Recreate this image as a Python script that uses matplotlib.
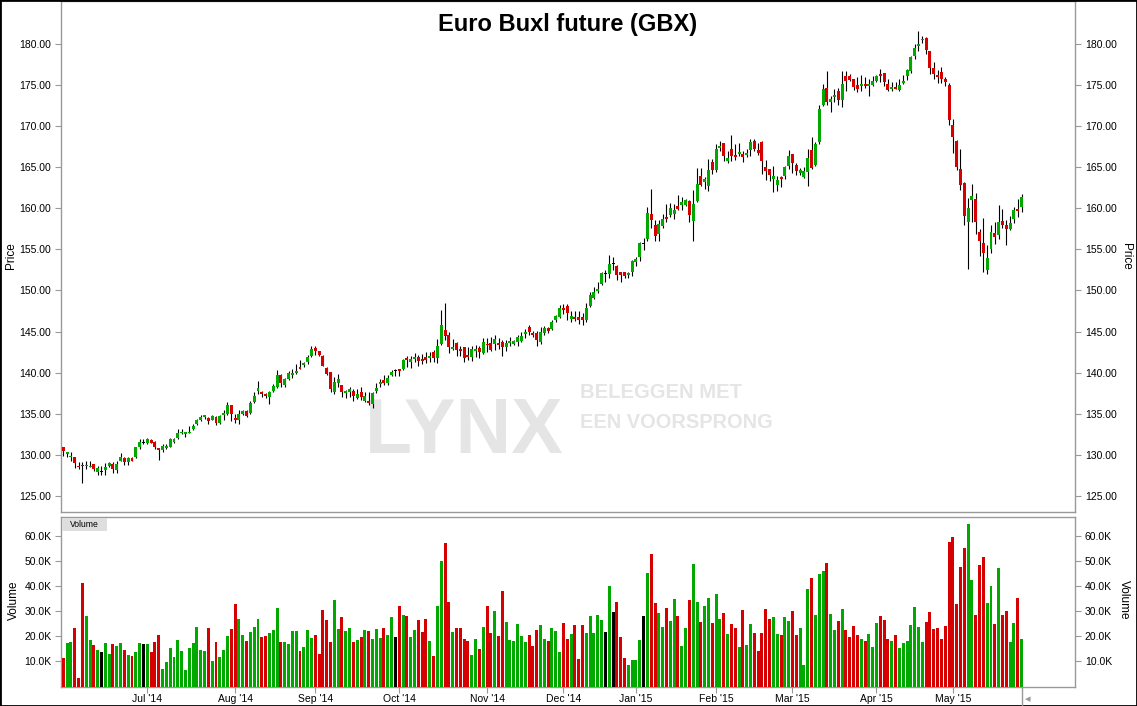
import matplotlib
matplotlib.use('Agg')
import matplotlib.pyplot as plt
from matplotlib import font_manager
from matplotlib.font_manager import FontProperties
from matplotlib.patches import Rectangle
from matplotlib.lines import Line2D
from matplotlib.ticker import FuncFormatter, FixedLocator
import numpy as np
import pandas as pd

plt.rcParams['font.family'] = ['Liberation Sans', 'DejaVu Sans']

# trading days (Eurex closed on these)
holidays = ['2014-12-24', '2014-12-25', '2014-12-26', '2014-12-31',
            '2015-01-01', '2015-04-03', '2015-04-06', '2015-05-01']
dates = pd.bdate_range('2014-05-30', '2015-05-28')
dates = dates[~dates.isin(pd.to_datetime(holidays))]

opens = [
    130.9, 130.1, 129.7, 129.7, 128.7, 128.8, 128.6, 128.5, 128.9, 127.9,
    127.9, 128.1, 128.7, 128.9, 128.1, 129.3, 129.6, 129.1, 129.6, 129.7,
    130.9, 131.5, 131.4, 131.8, 131.6, 130.8, 130.6, 130.8, 131.0, 131.6,
    132.0, 132.6, 132.5, 132.7, 133.2, 133.8, 134.3, 134.6, 134.5, 134.3,
    134.6, 133.9, 134.8, 135.0, 136.1, 134.5, 134.3, 135.0, 135.3, 135.1,
    136.4, 137.8, 137.7, 137.4, 137.0, 137.8, 138.3, 139.7, 138.5, 139.2,
    139.7, 139.9, 140.7, 140.9, 141.3, 142.0, 143.0, 142.6, 142.0, 140.6,
    140.1, 137.7, 138.8, 138.5, 137.5, 137.7, 137.8, 136.9, 137.6, 136.6,
    136.5, 136.2, 137.8, 138.6, 139.1, 138.7, 139.7, 140.2, 140.4, 140.4,
    141.8, 141.35, 141.7, 141.9, 141.7, 141.9, 141.8, 142.5, 141.8, 143.5,
    145.2, 144.6, 142.9, 143.6, 142.9, 143.1, 142.2, 141.9, 142.6, 143.0,
    142.4, 143.5, 143.6, 143.5, 143.6, 143.7, 143.1, 143.6, 143.5, 143.7,
    143.9, 144.7, 145.6, 144.8, 144.8, 143.7, 144.8, 145.4, 145.3, 146.4,
    146.8, 147.9, 148.1, 146.5, 146.8, 146.8, 146.8, 146.4, 148.1, 149.1,
    149.9, 150.8, 151.95, 152.0, 153.2, 153.0, 152.25, 152.25, 151.9, 152.25,
    153.5, 154.1, 155.7, 156.3, 159.3, 157.96, 156.9, 157.8, 158.9, 159.2,
    159.3, 160.3, 160.4, 160.4, 160.9, 158.5, 160.9, 163.9, 163.2, 162.7,
    165.6, 164.7, 167.3, 167.9, 165.8, 167.2, 166.5, 166.6, 166.6, 166.5,
    167.1, 168.2, 167.1, 168.1, 165.0, 164.8, 163.6, 162.8, 163.8, 163.9,
    165.15, 166.6, 165.3, 164.3, 163.8, 164.4, 167.1, 165.3, 168.0, 172.6,
    174.6, 172.9, 173.55, 174.2, 173.1, 176.1, 176.1, 175.75, 175.0, 174.9,
    175.1, 174.9, 175.0, 175.5, 176.35, 176.5, 175.1, 174.5, 174.8, 174.4,
    175.25, 176.1, 176.7, 178.5, 179.75, 180.4, 180.7, 179.15, 177.0, 176.2,
    176.6, 175.7, 175.0, 170.1, 168.2, 164.8, 163.1, 158.3, 161.0, 161.1,
    157.1, 155.8, 152.5, 155.05, 157.0, 156.75, 158.45, 157.97, 157.5, 158.7,
    159.9, 160.2,
]

highs = [
    131.0, 130.3, 130.3, 129.8, 129.1, 129.1, 129.3, 129.2, 128.9, 128.6,
    128.6, 129.0, 129.1, 129.1, 129.2, 130.2, 129.8, 129.8, 129.8, 131.0,
    131.9, 131.9, 132.1, 131.9, 131.7, 130.8, 131.3, 131.3, 132.1, 132.1,
    133.2, 133.1, 132.8, 133.5, 133.7, 134.4, 134.9, 134.9, 134.6, 134.8,
    134.7, 134.8, 135.4, 136.4, 136.1, 135.0, 135.4, 135.5, 135.4, 136.5,
    137.6, 139.0, 137.8, 137.5, 137.8, 138.6, 140.3, 139.8, 139.3, 140.2,
    140.4, 141.0, 141.5, 141.3, 142.2, 143.2, 143.3, 142.6, 142.1, 140.7,
    140.1, 139.5, 139.8, 138.5, 137.9, 138.3, 138.0, 138.0, 138.2, 137.7,
    137.6, 137.6, 138.7, 139.2, 139.7, 139.7, 140.3, 140.4, 140.4, 141.7,
    142.0, 142.0, 142.4, 142.2, 142.3, 142.5, 142.5, 142.8, 144.1, 147.6,
    148.5, 145.0, 144.1, 143.7, 143.3, 143.1, 143.1, 143.3, 143.4, 143.3,
    144.2, 144.2, 144.3, 144.6, 144.2, 144.0, 144.0, 144.3, 144.0, 144.6,
    145.0, 145.3, 145.8, 145.1, 145.1, 145.6, 145.7, 145.6, 146.4, 147.0,
    148.2, 148.4, 148.4, 147.5, 147.5, 147.5, 147.3, 148.5, 149.8, 150.4,
    151.0, 152.2, 152.5, 154.3, 154.1, 153.1, 152.25, 152.25, 152.25, 153.7,
    154.1, 155.9, 156.4, 160.2, 162.3, 158.6, 158.6, 159.3, 160.5, 160.6,
    160.5, 161.6, 161.4, 161.1, 161.0, 162.2, 164.9, 164.9, 163.8, 166.0,
    166.0, 167.8, 168.2, 167.9, 167.0, 168.9, 167.8, 167.9, 167.0, 167.2,
    168.4, 168.4, 167.95, 168.2, 165.9, 164.8, 165.15, 163.9, 163.9, 165.15,
    167.1, 166.6, 165.5, 164.9, 165.0, 167.2, 168.6, 168.1, 172.6, 175.1,
    176.7, 173.7, 174.5, 174.6, 176.7, 176.7, 176.3, 175.75, 175.9, 176.2,
    176.0, 175.7, 176.1, 176.2, 176.95, 176.5, 175.7, 175.4, 175.4, 175.7,
    176.2, 176.95, 178.5, 180.0, 181.6, 181.0, 180.85, 179.15, 177.8, 176.8,
    177.2, 175.9, 175.25, 170.9, 168.3, 167.2, 163.2, 161.2, 162.96, 161.9,
    157.5, 158.8, 155.5, 157.97, 158.3, 160.4, 159.9, 158.6, 159.1, 160.2,
    161.1, 161.75,
]

lows = [
    129.9, 129.7, 129.3, 128.4, 128.3, 126.6, 128.3, 128.5, 128.0, 127.5,
    127.5, 127.5, 128.5, 127.8, 127.8, 129.2, 128.8, 128.8, 129.2, 129.6,
    130.7, 131.3, 131.3, 131.4, 130.7, 129.4, 130.4, 130.7, 130.9, 131.5,
    131.9, 132.5, 132.2, 132.6, 133.0, 133.6, 134.1, 134.4, 133.8, 134.2,
    133.6, 133.7, 134.3, 134.8, 134.1, 133.9, 133.7, 134.8, 134.6, 135.0,
    136.3, 137.4, 137.0, 136.9, 136.2, 137.7, 138.1, 138.2, 138.3, 139.1,
    139.3, 139.8, 140.4, 140.7, 141.1, 141.9, 142.1, 142.0, 140.8, 139.7,
    137.6, 137.4, 138.2, 137.0, 136.9, 137.0, 136.5, 136.8, 136.7, 136.4,
    136.1, 135.7, 137.5, 138.2, 138.5, 138.5, 139.6, 139.6, 139.6, 140.3,
    140.7, 140.6, 141.3, 140.8, 141.1, 141.2, 141.3, 141.3, 141.2, 143.4,
    144.0, 142.4, 142.8, 142.0, 142.0, 141.3, 141.5, 141.4, 141.9, 141.8,
    142.3, 142.5, 142.6, 142.8, 142.9, 142.0, 142.6, 143.3, 143.4, 143.3,
    143.7, 144.2, 144.6, 144.35, 143.3, 143.5, 144.6, 144.8, 145.2, 146.2,
    146.7, 147.1, 146.4, 146.2, 146.3, 145.9, 145.8, 146.2, 148.0, 149.0,
    149.7, 150.7, 151.0, 151.5, 152.5, 151.3, 151.0, 151.5, 151.5, 151.8,
    153.0, 153.6, 154.9, 156.0, 157.6, 156.0, 156.0, 157.6, 158.3, 158.9,
    158.7, 159.8, 159.8, 160.3, 158.3, 156.0, 160.8, 162.7, 162.3, 162.1,
    164.1, 164.4, 166.9, 165.8, 165.5, 165.8, 165.9, 166.4, 165.6, 166.2,
    166.4, 167.0, 166.5, 164.2, 163.45, 163.3, 162.0, 162.1, 162.6, 163.6,
    164.8, 164.3, 164.05, 164.05, 163.7, 162.7, 164.8, 165.15, 167.8, 172.45,
    172.6, 171.7, 172.9, 172.6, 172.3, 174.2, 175.5, 174.4, 174.15, 174.3,
    174.6, 173.7, 174.9, 175.4, 175.4, 174.9, 174.3, 174.3, 174.5, 174.3,
    175.1, 175.6, 176.5, 178.2, 179.1, 180.1, 178.7, 176.35, 175.7, 175.25,
    175.25, 174.9, 170.1, 166.7, 164.7, 162.2, 158.0, 152.6, 158.3, 156.9,
    154.2, 152.25, 152.0, 154.6, 155.65, 156.3, 157.6, 155.5, 157.4, 158.2,
    158.9, 159.55,
]

closes = [
    130.5, 130.3, 129.9, 129.0, 128.5, 128.6, 128.8, 128.7, 128.3, 128.4,
    127.9, 128.5, 129.0, 128.3, 128.9, 129.8, 129.1, 129.6, 129.3, 130.9,
    131.6, 131.5, 131.9, 131.5, 131.0, 130.6, 131.1, 131.1, 131.9, 131.9,
    132.7, 132.8, 132.8, 132.8, 133.5, 134.2, 134.6, 134.8, 134.1, 134.7,
    133.9, 134.7, 135.1, 136.1, 135.0, 134.2, 135.0, 135.3, 134.7, 136.3,
    137.2, 138.1, 137.4, 137.1, 137.6, 138.4, 139.7, 138.7, 139.2, 140.0,
    140.0, 140.2, 140.4, 141.2, 141.9, 142.9, 142.6, 142.1, 140.8, 139.8,
    138.0, 138.9, 139.2, 137.7, 137.8, 138.0, 137.2, 137.4, 137.0, 137.2,
    136.3, 137.5, 138.1, 138.9, 138.8, 139.4, 140.1, 140.2, 140.2, 141.5,
    141.5, 141.6, 141.9, 141.4, 141.4, 141.5, 142.0, 141.8, 143.3, 145.8,
    144.5, 143.1, 143.1, 142.8, 142.6, 141.8, 141.9, 142.9, 142.9, 142.5,
    143.7, 143.4, 142.8, 144.1, 143.4, 143.1, 143.6, 143.9, 143.9, 144.3,
    144.5, 144.95, 145.0, 144.6, 144.0, 144.95, 145.4, 145.1, 146.1, 146.9,
    147.9, 147.6, 147.3, 146.9, 146.5, 146.4, 146.4, 147.9, 149.4, 149.8,
    150.2, 152.1, 151.95, 153.2, 153.2, 151.9, 151.9, 151.8, 152.1, 153.6,
    153.8, 155.8, 155.7, 159.4, 158.6, 156.6, 158.1, 158.7, 158.7, 160.0,
    159.8, 159.9, 160.8, 161.0, 159.2, 160.5, 162.9, 162.8, 163.5, 164.7,
    164.7, 167.2, 167.6, 166.4, 166.1, 166.4, 166.2, 166.85, 166.2, 166.7,
    168.1, 167.2, 166.7, 165.8, 164.5, 164.05, 163.9, 163.45, 163.6, 165.0,
    166.4, 165.5, 164.5, 164.7, 164.5, 166.1, 164.9, 167.8, 172.1, 174.5,
    172.9, 173.3, 173.8, 173.2, 175.1, 175.5, 175.6, 174.8, 174.5, 175.1,
    174.9, 175.1, 175.5, 176.1, 176.1, 175.4, 174.4, 174.8, 174.5, 175.0,
    175.5, 176.8, 178.4, 179.5, 180.0, 180.6, 179.3, 177.0, 176.35, 176.0,
    175.7, 175.4, 170.75, 168.7, 165.0, 162.8, 159.1, 160.0, 161.5, 158.3,
    156.0, 154.6, 153.95, 157.1, 156.5, 158.3, 157.97, 157.5, 158.2, 159.8,
    159.7, 161.4,
]

# volume in thousands of contracts
volume = [
    11.5, 17.5, 17.9, 23.5, 3.5, 41.5, 28.3, 18.7, 16.7, 14.7,
    13.9, 17.5, 13.1, 17.1, 16.3, 17.5, 14.7, 12.7, 12.3, 13.9,
    17.5, 17.1, 17.1, 13.9, 17.9, 20.7, 7.1, 9.9, 15.5, 11.9,
    18.7, 14.3, 6.7, 15.5, 17.5, 23.9, 14.7, 14.3, 23.5, 10.3,
    17.9, 11.9, 14.7, 20.3, 23.1, 33.1, 27.1, 20.7, 18.3, 21.9,
    23.9, 27.1, 19.9, 20.3, 21.5, 22.7, 31.5, 17.9, 17.9, 17.1,
    22.3, 22.3, 14.3, 15.9, 22.7, 19.5, 20.7, 13.1, 30.7, 26.7,
    17.9, 34.7, 23.1, 27.9, 22.3, 23.5, 17.9, 18.7, 19.9, 22.7,
    22.3, 19.1, 23.1, 19.5, 23.5, 20.7, 27.9, 19.9, 32.3, 28.7,
    28.3, 19.9, 22.7, 26.7, 21.9, 27.1, 18.3, 12.3, 32.3, 50.3,
    57.5, 33.9, 21.9, 23.5, 23.5, 19.1, 18.3, 12.7, 19.1, 15.1,
    23.9, 32.3, 21.5, 30.3, 20.3, 38.3, 25.9, 18.7, 18.3, 25.1,
    20.3, 17.9, 20.7, 16.3, 22.7, 24.7, 19.1, 18.3, 23.5, 22.3,
    13.9, 25.5, 19.1, 21.1, 24.7, 11.1, 24.7, 21.5, 28.3, 21.5,
    28.7, 26.7, 21.9, 40.3, 29.9, 33.9, 19.9, 11.5, 8.7, 10.7,
    10.7, 18.7, 28.3, 45.5, 53.1, 33.5, 29.5, 23.9, 31.5, 26.3,
    35.1, 28.3, 16.3, 23.5, 34.7, 49.1, 33.9, 25.9, 32.3, 35.5,
    25.5, 37.1, 27.1, 29.5,
    21.1, 25.1, 23.5, 15.9, 30.7, 16.7, 25.1, 21.5, 14.3, 21.5,
    31.1, 27.1, 27.9, 21.1, 20.7, 27.9, 26.3, 30.3, 20.7, 23.5,
    8.7, 39.1, 43.5, 28.7, 45.1, 46.3, 49.5, 29.1, 22.7, 26.3,
    31.1, 22.7, 19.9, 24.3, 20.7, 19.1, 18.3, 21.1, 15.9, 25.5,
    28.3, 26.7, 19.1, 18.3, 20.7, 15.5, 17.5, 18.3, 24.7, 31.9,
    23.9, 17.9, 25.9, 29.9, 23.1, 23.5, 19.1, 24.3, 57.9, 59.9,
    33.1, 47.9, 55.5, 65.1, 42.7, 28.7, 48.7, 51.9, 33.5, 40.3,
    25.1, 47.5, 28.7, 30.3, 17.9, 25.5, 35.5, 19.1,
]

GREEN = '#00a800'
RED = '#d60000'
GRID = '#999999'

W, H = 1137, 706
fig = plt.figure(figsize=(W / 100, H / 100), dpi=100)


def box(l, t, r, b):
    return [l / W, 1 - b / H, (r - l) / W, (b - t) / H]


ax = fig.add_axes(box(61, 1, 1075, 512))
axv = fig.add_axes(box(61, 516.5, 1075, 686.5))

x = np.arange(len(dates))
o = np.array(opens)
h = np.array(highs)
lo = np.array(lows)
c = np.array(closes)
colors = np.where(c > o, GREEN, np.where(c < o, RED, 'black'))

# candles
ax.vlines(x, lo, h, color='black', lw=0.8, zorder=2)
ax.bar(x, np.maximum(np.abs(c - o), 0.12), bottom=np.minimum(o, c),
       width=0.78, color=colors, lw=0, zorder=3)

# volume
axv.bar(x, volume, width=0.78, color=colors, lw=0, zorder=3)

xl = (-0.6, 265.0)
ax.set_xlim(xl)
axv.set_xlim(xl)
ax.set_ylim(123.05, 185.2)
axv.set_ylim(0, 67.9)

ax.yaxis.set_major_locator(FixedLocator(np.arange(125, 181, 5)))
ax.yaxis.set_major_formatter(FuncFormatter(lambda v, p: f'{v:.2f}'))
axv.yaxis.set_major_locator(FixedLocator(np.arange(10, 61, 10)))
axv.yaxis.set_major_formatter(FuncFormatter(lambda v, p: f'{v:.1f}K'))

# month ticks at first trading day of each full month shown
month_idx = [i for i in range(10, len(dates)) if dates[i].month != dates[i - 1].month]
axv.xaxis.set_major_locator(FixedLocator(month_idx))
axv.set_xticklabels([dates[i].strftime("%b '%y") for i in month_idx])

for a in (ax, axv):
    a.tick_params(axis='y', left=True, right=True, labelleft=True, labelright=True,
                  length=4, width=0.8, color=GRID, labelsize=7.5, pad=3)
    for s in a.spines.values():
        s.set_color(GRID)
        s.set_linewidth(1)
ax.tick_params(axis='x', bottom=False, labelbottom=False)
axv.tick_params(axis='x', length=4, width=0.8, color=GRID, labelsize=7.5, pad=1.5)

# watermark: look for a condensed bold face, otherwise plain bold
wm_prop = FontProperties(family='Liberation Sans', weight='bold')
for f in font_manager.fontManager.ttflist:
    if (f.name in ('Liberation Sans Narrow', 'Noto Sans', 'Open Sans', 'Roboto')
            and f.stretch in ('condensed', 'semi-condensed')
            and f.weight in (700, 'bold') and f.style == 'normal'):
        wm_prop = FontProperties(fname=f.fname)
        break

wm = '#e5e5e5'
wm_texts = [
    ('LYNX', 365, 453, 199),
    ('BELEGGEN MET', 580, 398, 162),
    ('EEN VOORSPRONG', 580, 428, 192),
]
renderer = fig.canvas.get_renderer()
for txt, px, py, target in wm_texts:
    t = ax.text(px / W, 1 - py / H, txt, transform=fig.transFigure, fontproperties=wm_prop,
                color=wm, ha='left', va='baseline', zorder=0.5)
    if wm_prop.get_file() is None:
        t.set_fontweight('bold')
    t.set_fontsize(40)
    w40 = t.get_window_extent(renderer).width
    t.set_fontsize(40 * target / w40)

# title and axis labels
fig.text(568 / W, 1 - 24 / H, 'Euro Buxl future (GBX)', ha='center', va='center',
         fontsize=17, fontweight='bold')
fig.text(11 / W, 1 - 256 / H, 'Price', rotation=90, ha='center', va='center', fontsize=8.5)
fig.text(1126 / W, 1 - 256 / H, 'Price', rotation=270, ha='center', va='center', fontsize=8.5)
fig.text(14 / W, 1 - 600 / H, 'Volume', rotation=90, ha='center', va='center', fontsize=8.5)
fig.text(1124 / W, 1 - 600 / H, 'Volume', rotation=270, ha='center', va='center', fontsize=8.5)

# "Volume" tag in the lower panel
fig.add_artist(Rectangle((62 / W, 1 - 531 / H), 45 / W, 13 / H, transform=fig.transFigure,
                         fc='#dedede', ec='none'))
fig.text(84.5 / W, 1 - 524.5 / H, 'Volume', ha='center', va='center', fontsize=6.2)

# scroll marker at bottom right
fig.add_artist(Line2D([1022 / W, 1022 / W], [1 - 686.5 / H, 0], color=GRID, lw=1,
                      transform=fig.transFigure))
fig.text(1028 / W, 1 - 699 / H, '\u25c2', ha='center', va='center', fontsize=8,
         color='#999999', family='DejaVu Sans')

# frame around the whole picture
fig.add_artist(Rectangle((0, 0), 1, 1, transform=fig.transFigure, fill=False,
                         ec='black', lw=2))

fig.savefig('out.png', dpi=100)
